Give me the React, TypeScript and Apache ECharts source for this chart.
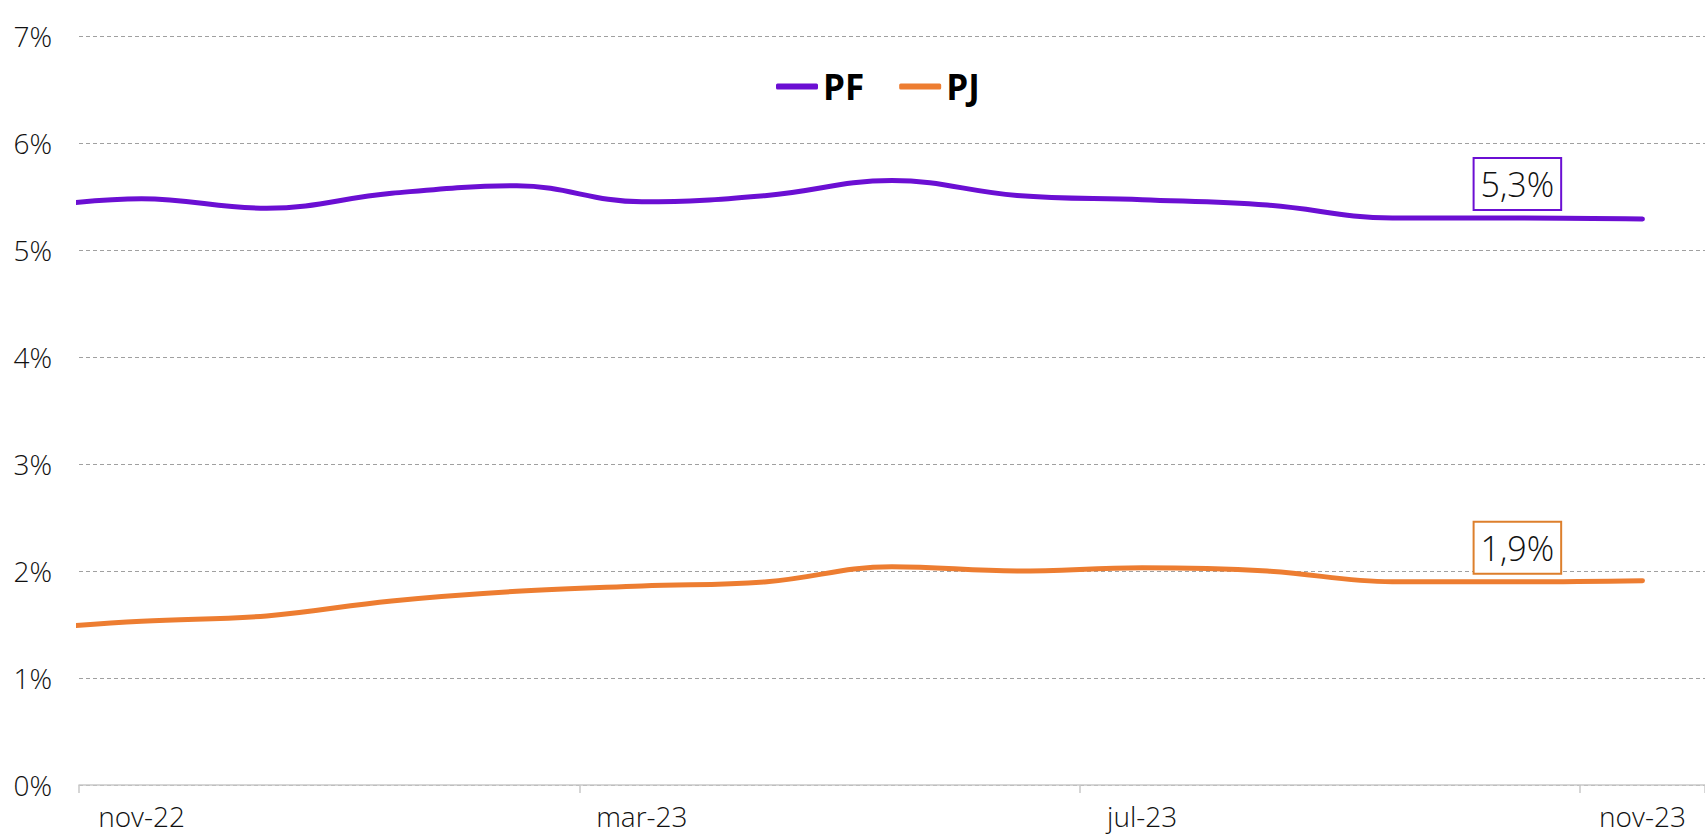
import React, { useEffect, useRef } from "react";
import * as echarts from "echarts";

// Monthly series; oct-22 lies just left of the visible axis (clipped)
const months = [
  "oct-22", "nov-22", "dec-22", "jan-23", "feb-23", "mar-23", "apr-23",
  "may-23", "jun-23", "jul-23", "aug-23", "sep-23", "oct-23", "nov-23",
];
const axisCategories = months.slice(1);
const pfValues = [5.38, 5.48, 5.39, 5.53, 5.6, 5.45, 5.51, 5.65, 5.51, 5.47, 5.42, 5.3, 5.3, 5.29];
const pjValues = [1.45, 1.53, 1.58, 1.72, 1.81, 1.86, 1.9, 2.04, 2.0, 2.03, 2.0, 1.9, 1.9, 1.91];
const yTicks = [0, 1, 2, 3, 4, 5, 6, 7];
const labelMonth = "oct-23";

const PF_COLOR = "#6b0fd3";
const PJ_COLOR = "#ed7d31";
const FONT = "'Open Sans', sans-serif";

function buildData(values: number[], color: string) {
  return months.map((m, i) => {
    const point: any = { value: [i - 0.5, values[i]] };
    if (m === labelMonth) {
      point.label = {
        show: true,
        position: "top",
        distance: 8,
        formatter: (p: any) => p.value[1].toFixed(1).replace(".", ",") + "%",
        fontFamily: FONT,
        fontWeight: 300,
        fontSize: 34,
        color: "#111",
        backgroundColor: "#fff",
        borderColor: color,
        borderWidth: 2,
        padding: [8, 6, 8, 6],
        lineHeight: 34,
      };
    }
    return point;
  });
}

export default function App() {
  const ref = useRef<HTMLDivElement>(null);
  useEffect(() => {
    if (!ref.current) return;
    const chart = echarts.init(ref.current, null, { renderer: "svg" });
    chart.setOption({
      animation: false,
      backgroundColor: "#fff",
      grid: { left: 79, right: 0, top: 36, bottom: 49, containLabel: false },
      legend: {
        data: ["PF", "PJ"],
        left: 771,
        top: 64,
        icon: "roundRect",
        itemWidth: 42,
        itemHeight: 6,
        itemGap: 35,
        textStyle: { fontFamily: FONT, fontSize: 35, fontWeight: "bold", color: "#000" },
      },
      xAxis: [
        {
          type: "category",
          data: axisCategories,
          boundaryGap: true,
          axisLine: { show: true, lineStyle: { color: "#c9c9c9", width: 1.5 } },
          axisTick: { show: true, interval: 3, length: 8, lineStyle: { color: "#c9c9c9", width: 1.5 } },
          axisLabel: {
            interval: 3,
            margin: 17,
            lineHeight: 28,
            fontFamily: FONT,
            fontWeight: 300,
            fontSize: 28,
            color: "#111",
          },
          splitLine: { show: false },
          z: 5,
        },
        {
          type: "value",
          min: 0,
          max: axisCategories.length,
          show: false,
        },
      ],
      yAxis: {
        type: "value",
        min: yTicks[0],
        max: yTicks[yTicks.length - 1],
        interval: 1,
        axisLine: { show: false },
        axisTick: { show: false },
        axisLabel: {
          formatter: "{value}%",
          margin: 27,
          fontFamily: FONT,
          fontWeight: 300,
          fontSize: 28,
          color: "#111",
        },
        splitLine: { show: true, lineStyle: { color: "#a0a0a0", type: [4, 3], width: 1 } },
      },
      series: [
        {
          name: "PF",
          type: "line",
          xAxisIndex: 1,
          data: buildData(pfValues, PF_COLOR),
          smooth: 0.4,
          symbol: "circle",
          symbolSize: 2,
          showSymbol: true,
          clip: true,
          color: PF_COLOR,
          itemStyle: { color: PF_COLOR },
          lineStyle: { color: PF_COLOR, width: 5, cap: "round" },
        },
        {
          name: "PJ",
          type: "line",
          xAxisIndex: 1,
          data: buildData(pjValues, "#dd7f2c"),
          smooth: 0.4,
          symbol: "circle",
          symbolSize: 2,
          showSymbol: true,
          clip: true,
          color: PJ_COLOR,
          itemStyle: { color: PJ_COLOR },
          lineStyle: { color: PJ_COLOR, width: 5, cap: "round" },
        },
      ],
    });
    return () => chart.dispose();
  }, []);
  return (
    <div
      ref={ref}
      style={{ position: "absolute", left: 0, top: 0, width: "1705px", height: "834px" }}
    />
  );
}
